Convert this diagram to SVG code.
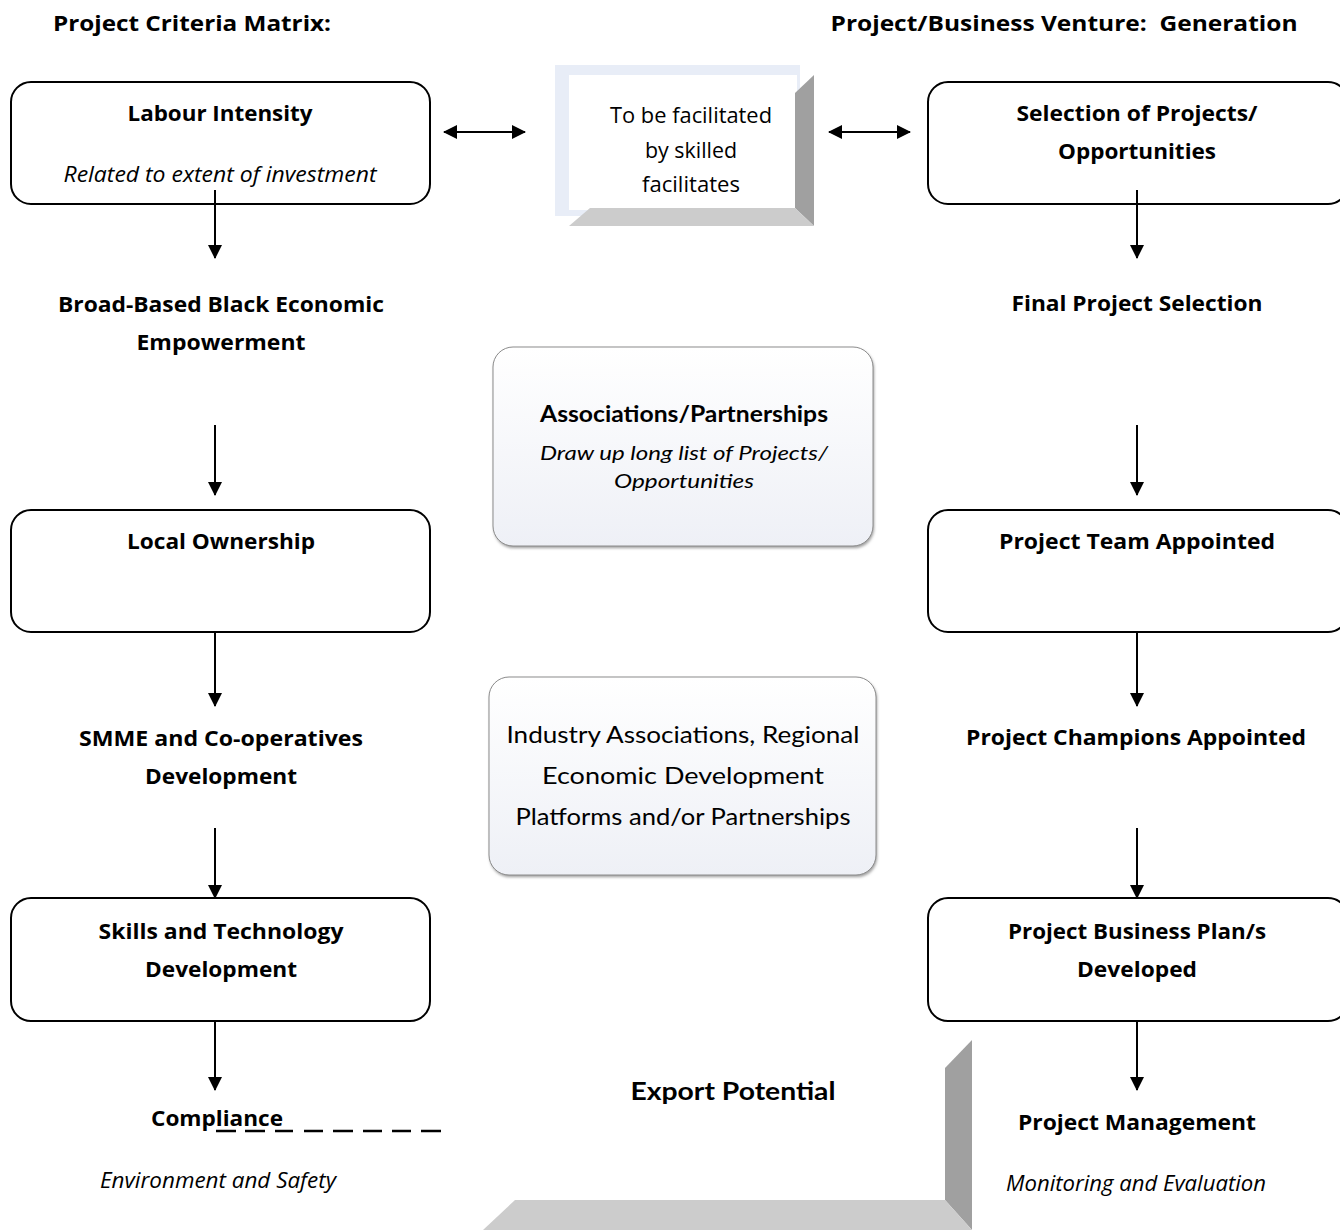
<svg xmlns="http://www.w3.org/2000/svg" width="1340" height="1230" viewBox="0 0 1340 1230">
<defs>
<style>
.t{font-family:"Open Sans","Liberation Sans",sans-serif;fill:#000;text-anchor:middle}
.b{font-weight:bold;font-size:22px}
.i{font-style:italic;font-size:21px}
.r{font-size:21px}
.box{fill:#fff;stroke:#000;stroke-width:2}
.ln{stroke:#000;stroke-width:2;fill:none}
.cal{font-family:"Lato","Open Sans",sans-serif;fill:#000;text-anchor:middle}
</style>
<marker id="ah" markerWidth="14" markerHeight="18" refX="13" refY="7" orient="auto" markerUnits="userSpaceOnUse" viewBox="0 0 14 14">
<path d="M0,0 L14,7 L0,14 Z" fill="#000"/>
</marker>
<marker id="as" markerWidth="14" markerHeight="18" refX="1" refY="7" orient="auto" markerUnits="userSpaceOnUse" viewBox="0 0 14 14">
<path d="M14,0 L0,7 L14,14 Z" fill="#000"/>
</marker>
<linearGradient id="g1" x1="0" y1="0" x2="0" y2="1">
<stop offset="0" stop-color="#ffffff"/>
<stop offset="1" stop-color="#eef0f6"/>
</linearGradient>
<filter id="sh" x="-5%" y="-5%" width="110%" height="110%">
<feGaussianBlur stdDeviation="1.5"/>
</filter>
</defs>
<rect width="1340" height="1230" fill="#fff"/>

<text class="t b" x="192" y="31" textLength="278" lengthAdjust="spacingAndGlyphs">Project Criteria Matrix:</text>
<text class="t b" x="1064" y="31" xml:space="preserve" textLength="467" lengthAdjust="spacingAndGlyphs">Project/Business Venture:  Generation</text>

<g id="labour">
<rect class="box" x="11" y="82" width="419" height="122" rx="20" stroke-width="1.5"/>
<text class="t b" x="220" y="121" textLength="185" lengthAdjust="spacingAndGlyphs">Labour Intensity</text>
<text class="t i" x="220" y="182" textLength="313" lengthAdjust="spacingAndGlyphs">Related to extent of investment</text>
</g>

<g id="facilitate">
<rect x="555" y="65" width="245" height="151" fill="#e8edf7"/>
<rect x="569" y="75" width="228" height="135" fill="#fff"/>
<polygon points="795,93 814,75 814,226 795,208" fill="#a0a0a0"/>
<polygon points="590,208 795,208 814,226 569,226" fill="#cccccc"/>
<text class="t r" x="691" y="123" textLength="162" lengthAdjust="spacingAndGlyphs">To be facilitated</text>
<text class="t r" x="691" y="158" textLength="92" lengthAdjust="spacingAndGlyphs">by skilled</text>
<text class="t r" x="691" y="192" textLength="98" lengthAdjust="spacingAndGlyphs">facilitates</text>
</g>

<g id="selection">
<rect class="box" x="928" y="82" width="420" height="122" rx="20" stroke-width="1.5"/>
<text class="t b" x="1137" y="121" textLength="241" lengthAdjust="spacingAndGlyphs">Selection of Projects/</text>
<text class="t b" x="1137" y="159" textLength="158" lengthAdjust="spacingAndGlyphs">Opportunities</text>
</g>

<g id="bbbee">
<text class="t b" x="221" y="312" textLength="326" lengthAdjust="spacingAndGlyphs">Broad-Based Black Economic</text>
<text class="t b" x="221" y="350" textLength="169" lengthAdjust="spacingAndGlyphs">Empowerment</text>
</g>

<g id="final">
<text class="t b" x="1137" y="311" textLength="251" lengthAdjust="spacingAndGlyphs">Final Project Selection</text>
</g>

<g id="associations">
<rect x="494" y="349" width="380" height="199" rx="20" fill="#9a9a9a" filter="url(#sh)"/>
<rect x="493" y="347" width="380" height="199" rx="20" fill="url(#g1)" stroke="#8c8c8c" stroke-width="1"/>
<text class="cal" x="684" y="422" font-size="22" font-weight="bold" textLength="288" lengthAdjust="spacingAndGlyphs">Associations/Partnerships</text>
<text class="cal" x="684" y="460" font-size="20" font-style="italic" fill="#333" textLength="288" lengthAdjust="spacingAndGlyphs">Draw up long list of Projects/</text>
<text class="cal" x="684" y="488" font-size="20" font-style="italic" textLength="140" lengthAdjust="spacingAndGlyphs">Opportunities</text>
</g>

<g id="localown">
<rect class="box" x="11" y="510" width="419" height="122" rx="20"/>
<text class="t b" x="221" y="549" textLength="188" lengthAdjust="spacingAndGlyphs">Local Ownership</text>
</g>

<g id="team">
<rect class="box" x="928" y="510" width="420" height="122" rx="20"/>
<text class="t b" x="1137" y="549" textLength="276" lengthAdjust="spacingAndGlyphs">Project Team Appointed</text>
</g>

<g id="smme">
<text class="t b" x="221" y="746" textLength="284" lengthAdjust="spacingAndGlyphs">SMME and Co-operatives</text>
<text class="t b" x="221" y="784" textLength="152" lengthAdjust="spacingAndGlyphs">Development</text>
</g>

<g id="champions">
<text class="t b" x="1136" y="745" textLength="340" lengthAdjust="spacingAndGlyphs">Project Champions Appointed</text>
</g>

<g id="industry">
<rect x="490" y="679" width="387" height="198" rx="20" fill="#9a9a9a" filter="url(#sh)"/>
<rect x="489" y="677" width="387" height="198" rx="20" fill="url(#g1)" stroke="#8c8c8c" stroke-width="1"/>
<text class="cal" x="683" y="743" font-size="24" textLength="353" lengthAdjust="spacingAndGlyphs">Industry Associations, Regional</text>
<text class="cal" x="683" y="784" font-size="24" textLength="282" lengthAdjust="spacingAndGlyphs">Economic Development</text>
<text class="cal" x="683" y="825" font-size="24" textLength="335" lengthAdjust="spacingAndGlyphs">Platforms and/or Partnerships</text>
</g>

<g id="skills">
<rect class="box" x="11" y="898" width="419" height="123" rx="20"/>
<text class="t b" x="221" y="939" textLength="245" lengthAdjust="spacingAndGlyphs">Skills and Technology</text>
<text class="t b" x="221" y="977" textLength="152" lengthAdjust="spacingAndGlyphs">Development</text>
</g>

<g id="businessplan">
<rect class="box" x="928" y="898" width="420" height="123" rx="20"/>
<text class="t b" x="1137" y="939" textLength="258" lengthAdjust="spacingAndGlyphs">Project Business Plan/s</text>
<text class="t b" x="1137" y="977" textLength="120" lengthAdjust="spacingAndGlyphs">Developed</text>
</g>

<g id="export">
<polygon points="945,1068 972,1040 972,1230 945,1200" fill="#a0a0a0"/>
<polygon points="515,1200 945,1200 972,1230 483,1230" fill="#cccccc"/>
<text class="cal" x="733" y="1100" font-size="25" font-weight="bold" textLength="205" lengthAdjust="spacingAndGlyphs">Export Potential</text>
</g>

<g id="compliance">
<text class="t b" x="217" y="1126" textLength="132" lengthAdjust="spacingAndGlyphs">Compliance</text>
<path d="M216,1131 H236 M245,1131 H265 M275,1131 H293 M304,1131 H323 M333,1131 H353 M363,1131 H382 M392,1131 H411 M421,1131 H441" stroke="#000" stroke-width="2.5"/>
<text class="t i" x="218" y="1188" textLength="236" lengthAdjust="spacingAndGlyphs">Environment and Safety</text>
</g>

<g id="management">
<text class="t b" x="1137" y="1130" textLength="238" lengthAdjust="spacingAndGlyphs">Project Management</text>
<text class="t i" x="1136" y="1191" textLength="260" lengthAdjust="spacingAndGlyphs">Monitoring and Evaluation</text>
</g>

<g id="connectors">
<line class="ln" x1="444" y1="132" x2="525" y2="132" marker-start="url(#as)" marker-end="url(#ah)"/>
<line class="ln" x1="829" y1="132" x2="910" y2="132" marker-start="url(#as)" marker-end="url(#ah)"/>
<line class="ln" x1="215" y1="190" x2="215" y2="258" marker-end="url(#ah)"/>
<line class="ln" x1="215" y1="425" x2="215" y2="495" marker-end="url(#ah)"/>
<line class="ln" x1="215" y1="632" x2="215" y2="706" marker-end="url(#ah)"/>
<line class="ln" x1="215" y1="828" x2="215" y2="898" marker-end="url(#ah)"/>
<line class="ln" x1="215" y1="1021" x2="215" y2="1090" marker-end="url(#ah)"/>
<line class="ln" x1="1137" y1="190" x2="1137" y2="258" marker-end="url(#ah)"/>
<line class="ln" x1="1137" y1="425" x2="1137" y2="495" marker-end="url(#ah)"/>
<line class="ln" x1="1137" y1="632" x2="1137" y2="706" marker-end="url(#ah)"/>
<line class="ln" x1="1137" y1="828" x2="1137" y2="898" marker-end="url(#ah)"/>
<line class="ln" x1="1137" y1="1021" x2="1137" y2="1090" marker-end="url(#ah)"/>
</g>
</svg>
